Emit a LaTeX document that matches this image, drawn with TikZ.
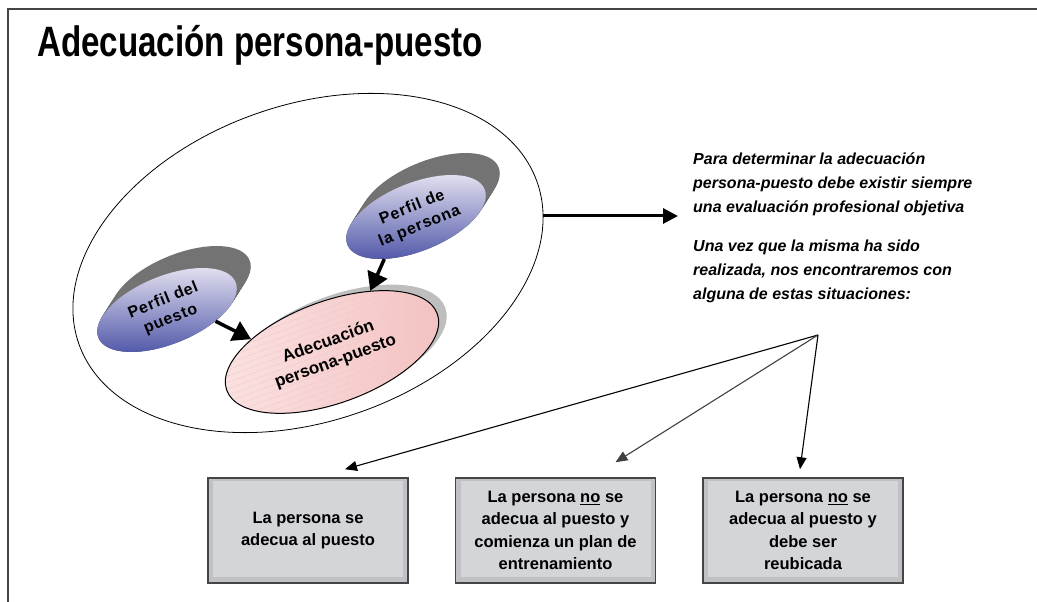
\documentclass[tikz,border=0pt]{standalone}
\usepackage{fontspec}
\setmainfont{Liberation Sans}
\usetikzlibrary{shapes.geometric, arrows.meta}
\definecolor{framec}{HTML}{454545}
\definecolor{blueT}{HTML}{E8E6F3}
\definecolor{blueB}{HTML}{4B52A6}
\definecolor{pinkL}{HTML}{FBE2E2}
\definecolor{pinkR}{HTML}{F3C1C1}
\definecolor{pinkS}{HTML}{F2C6C6}
\definecolor{shadowlight}{HTML}{BEBEBE}
\definecolor{boxband}{HTML}{C0C1C4}
\definecolor{boxfill}{HTML}{D4D5D8}
\newcommand{\extr}[7]{%
  \foreach \k in {0,...,16}{%
    \pgfmathtruncatemacro{\shade}{68-0.8*\k}%
    \fill[black!\shade, rotate around={#3:({#1+\k*#6/16},{#2+\k*#7/16})}]
      ({#1+\k*#6/16},{#2+\k*#7/16}) ellipse ({#4} and {#5});
  }%
}
\tikzset{
  blueell/.style={ellipse, minimum width=148, minimum height=68, inner sep=0pt,
    top color=blueT, bottom color=blueB, align=center,
    font=\bfseries\fontsize{16}{20}\selectfont\addfontfeatures{LetterSpace=5}},
  outcome/.style={rectangle, minimum width=200, minimum height=105, inner sep=0pt,
    fill=boxband, draw=framec, line width=1.5pt, align=center,
    font=\bfseries\fontsize{16.5}{22.5}\selectfont,
    path picture={\fill[boxfill]
      ([shift={(5pt,6pt)}]path picture bounding box.south west) rectangle
      ([shift={(-5pt,-3pt)}]path picture bounding box.north east);}},
  para/.style={anchor=north west, align=left, inner sep=0pt,
    font=\bfseries\itshape\fontsize{16}{24}\selectfont},
  bigarrow/.style={line width=3.5pt, -{Triangle[length=18pt,width=21pt]}},
  thinarrow/.style={line width=1.1pt, -{Triangle[length=12pt,width=10pt]}},
}
\begin{document}
\begin{tikzpicture}[x=1pt,y=1pt]
\useasboundingbox (0,0) rectangle (1037,602);
% frame
\draw[framec, line width=2pt] (8,0) -- (8,593) -- (1037,593);
% title
\node[anchor=base west, inner sep=0pt, xscale=0.78,
  font=\bfseries\fontsize{42.5}{42}\selectfont] (title) at (37,545) {Adecuación persona-puesto};
% outer ellipse
\node[draw, ellipse, line width=0.8pt, minimum width=486, minimum height=316,
  rotate=19.5, inner sep=0pt] (outer) at (308,339) {};
% shadows
\extr{167}{292}{22}{74}{34}{14}{22}
\extr{416}{385}{22}{74}{34}{14}{22}
\fill[shadowlight, rotate around={20:(340,256)}] (340,256) ellipse (112 and 51);
% ellipses
\node[blueell, rotate=22] (puesto) at (167,292) {Perfil del\\puesto};
\node[blueell, rotate=22] (persona) at (416,385) {Perfil de\\la persona};
\node[ellipse, draw=black, line width=1pt, minimum width=224, minimum height=102,
  inner sep=0pt, rotate=20, left color=pinkL, right color=pinkR, align=center,
  path picture={\foreach \s in {-140,-134,...,140}{
      \draw[pinkS, line width=0.3pt, rotate=20] (-130,\s) -- (130,\s);}},
  font=\bfseries\fontsize{17}{21}\selectfont] (adec) at (332,250) {Adecuación\\persona-puesto};
\draw[bigarrow] (puesto.-35) -- (adec.151);
\draw[bigarrow] (persona.211) -- (adec.38);
% arrow to text
\coordinate (srcpt) at (543,386);
\coordinate (dstpt) at (678,386);
\draw[line width=3pt, -{Triangle[length=15pt,width=15pt]}] (srcpt) -- (dstpt);
% paragraphs
\node[para] (para1) at (693,449) {Para determinar la adecuación\\persona-puesto debe existir siempre\\una evaluación profesional objetiva};
\node[para] (para2) at (693,362) {Una vez que la misma ha sido\\realizada, nos encontraremos con\\alguna de estas situaciones:};
% boxes
\node[outcome] (b1) at (308,71.5) {La persona se\\adecua al puesto};
\node[outcome] (b2) at (555.5,71.5) {La persona \underline{no} se\\adecua al puesto y\\comienza un plan de\\entrenamiento};
\node[outcome] (b3) at (803,71.5) {La persona \underline{no} se\\adecua al puesto y\\debe ser\\reubicada};
% arrows to boxes
\coordinate (fan) at (818,267);
\draw[thinarrow] (fan) -- ([xshift=37pt,yshift=8pt]b1.north);
\draw[thinarrow, black!75] (fan) -- ([xshift=60pt,yshift=15pt]b2.north);
\draw[thinarrow] (fan) -- ([xshift=-3pt,yshift=8pt]b3.north);
\end{tikzpicture}
\end{document}
